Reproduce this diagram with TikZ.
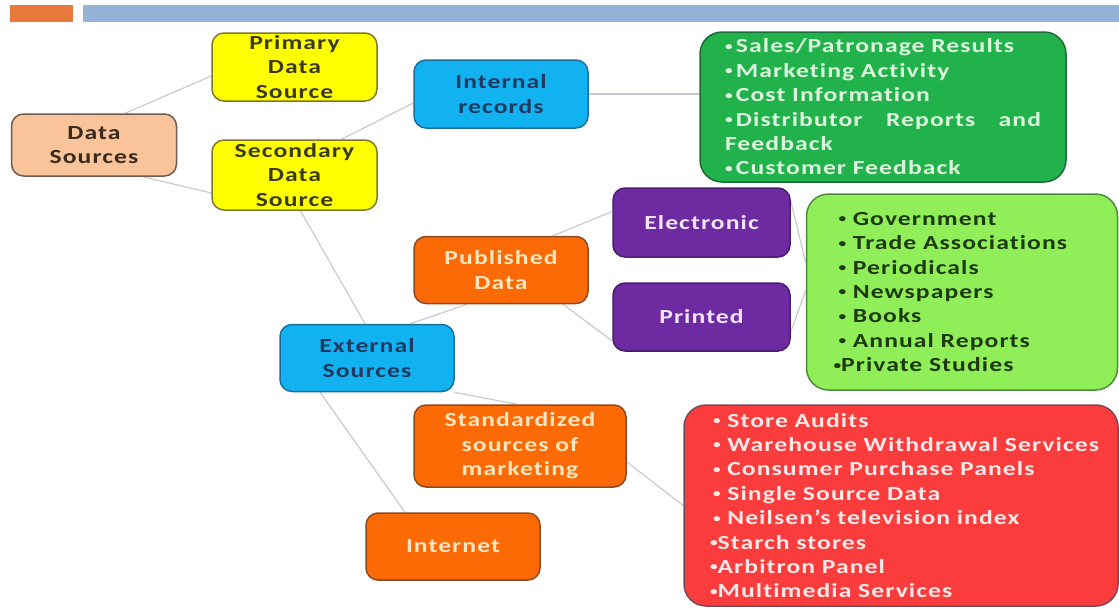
\documentclass[tikz,border=0pt]{standalone}
\usepackage{fontspec}
\newfontfamily\boxfont{Carlito}[FakeStretch=1.28,LetterSpace=5.5,Ligatures=NoCommon]
\usetikzlibrary{calc,backgrounds}

\definecolor{barorange}{HTML}{E8783C}
\definecolor{barblue}{HTML}{95B3D7}
\definecolor{linkgray}{HTML}{C5CAD6}
\definecolor{peachfill}{HTML}{F9C49A}
\definecolor{peachline}{HTML}{6E5A50}
\definecolor{peachtext}{HTML}{3A2A1E}
\definecolor{yellowfill}{HTML}{FFFF00}
\definecolor{yellowline}{HTML}{7A7A28}
\definecolor{yellowtext}{HTML}{3A3A1A}
\definecolor{cyanfill}{HTML}{12B2F0}
\definecolor{cyanline}{HTML}{1A6F9A}
\definecolor{cyantext}{HTML}{1F3A60}
\definecolor{greenfill}{HTML}{22B24C}
\definecolor{greenline}{HTML}{1B6B38}
\definecolor{greentext}{HTML}{DDF5DD}
\definecolor{purplefill}{HTML}{6E2AA0}
\definecolor{purpleline}{HTML}{4A1F70}
\definecolor{purpletext}{HTML}{F2E6FF}
\definecolor{orangefill}{HTML}{FB6A05}
\definecolor{orangeline}{HTML}{8B4A26}
\definecolor{orangetext}{HTML}{FFE6C0}
\definecolor{limefill}{HTML}{90EE58}
\definecolor{limeline}{HTML}{4E8A40}
\definecolor{limetext}{HTML}{1E3A10}
\definecolor{redfill}{HTML}{FA3C3C}
\definecolor{redline}{HTML}{7A4A55}
\definecolor{redtext}{HTML}{FFE8E8}

% small list bullet
\newcommand{\lbul}{\raisebox{2.5pt}{\fontsize{12}{12}\selectfont\textbullet}}

\begin{document}
\begin{tikzpicture}[x=1pt,y=-1pt,
  box/.style={rounded corners=12pt, line width=1.5pt, align=center,
    inner sep=0pt, font=\boxfont\bfseries\fontsize{20}{24.4}\selectfont},
  peachbox/.style={box, fill=peachfill, draw=peachline, text=peachtext},
  yellowbox/.style={box, fill=yellowfill, draw=yellowline, text=yellowtext},
  cyanbox/.style={box, fill=cyanfill, draw=cyanline, text=cyantext},
  purplebox/.style={box, fill=purplefill, draw=purpleline, text=purpletext},
  orangebox/.style={box, fill=orangefill, draw=orangeline, text=orangetext},
  listbox/.style={box, align=left, rounded corners=22pt},
  link/.style={draw=linkgray, line width=1.2pt}]
\useasboundingbox (0,0) rectangle (1119,608);

% header bar
\fill[barorange] (10,5) rectangle (73,22);
\fill[barblue] (83,5) rectangle (1119,22);

% hierarchy boxes
\node[peachbox, minimum width=165, minimum height=62] (ds) at (94,145) {Data\\Sources};
\node[yellowbox, minimum width=165, minimum height=68] (prim) at (294.5,67) {Primary\\Data\\Source};
\node[yellowbox, minimum width=165, minimum height=70] (sec) at (294.5,175) {Secondary\\Data\\Source};
\node[cyanbox, minimum width=174, minimum height=68] (intr) at (501,94) {Internal\\records};
\node[cyanbox, minimum width=174, minimum height=67] (ext) at (367,358) {External\\Sources};
\node[orangebox, minimum width=174, minimum height=67] (pub) at (501,270) {Published\\Data};
\node[purplebox, minimum width=177, minimum height=69] (elec) at (701.5,222.5) {Electronic};
\node[purplebox, minimum width=177, minimum height=68] (prnt) at (701.5,317) {Printed};
\node[orangebox, minimum width=212, minimum height=82] (std) at (520,446) {Standardized\\sources of\\marketing};
\node[orangebox, minimum width=174, minimum height=67] (inet) at (453,546.5) {Internet};

% detail lists
\node[listbox, fill=greenfill, draw=greenline, text=greentext,
      minimum width=366, minimum height=150, inner xsep=25, text width=316] (green) at (883,107)
  {\lbul\,Sales/Patronage Results\\
   \lbul\,Marketing Activity\\
   \lbul\,Cost Information\\
   \makebox[316pt][l]{\lbul\,Distributor\hfill Reports\hfill and}\\
   Feedback\\
   \lbul\,Customer Feedback};
\node[listbox, fill=limefill, draw=limeline, text=limetext,
      minimum width=311, minimum height=196, inner xsep=17, text width=277] (lime) at (962,292)
  {\hspace{15pt}\lbul\ Government\\
   \hspace{15pt}\lbul\ Trade Associations\\
   \hspace{15pt}\lbul\ Periodicals\\
   \hspace{15pt}\lbul\ Newspapers\\
   \hspace{15pt}\lbul\ Books\\
   \hspace{15pt}\lbul\ Annual Reports\\
   \hspace{10pt}\lbul Private Studies};
\node[listbox, fill=redfill, draw=redline, text=redtext,
      minimum width=434, minimum height=201, inner xsep=12, text width=410] (red) at (901,505.5)
  {\hspace{17pt}\lbul\ Store Audits\\
   \hspace{17pt}\lbul\ Warehouse Withdrawal Services\\
   \hspace{17pt}\lbul\ Consumer Purchase Panels\\
   \hspace{17pt}\lbul\ Single Source Data\\
   \hspace{17pt}\lbul\ Neilsen’s television index\\
   \hspace{14pt}\lbul Starch stores\\
   \hspace{14pt}\lbul Arbitron Panel\\
   \hspace{14pt}\lbul Multimedia Services};

% connectors
\begin{scope}[on background layer]
\draw[link] ($(ds.north)+(31,0)$) -- ($(prim.west)+(0,9)$);
\draw[link] ($(ds.south)+(49,0)$) -- ($(sec.west)+(0,18)$);
\draw[link] ($(sec.north)+(47,0)$) -- ($(intr.west)+(0,9)$);
\draw[link] (intr.east) -- (intr.east -| green.west);
\draw[link] ($(sec.south)+(6,0)$) -- ($(ext.north)+(-2,0)$);
\draw[link] ($(ext.north)+(43,0)$) -- ($(pub.south)+(-34,0)$);
\draw[link] ($(pub.north)+(52,0)$) -- ($(elec.west)+(0,-11)$);
\draw[link] ($(pub.south)+(62,0)$) -- ($(prnt.west)+(0,24)$);
\draw[link] ($(elec.east)+(-2,-30)$) -- ($(lime.west)+(0,-29)$);
\draw[link] ($(prnt.east)+(0,15)$) -- ($(lime.west)+(0,-2)$);
\draw[link] ($(ext.south)+(87,0)$) -- ($(std.north)+(-3,0)$);
\draw[link] ($(ext.south)+(-47,0)$) -- ($(inet.north)+(-48,0)$);
\draw[link] ($(std.east)+(0,16)$) -- (red.west);
\end{scope}
\end{tikzpicture}
\end{document}
